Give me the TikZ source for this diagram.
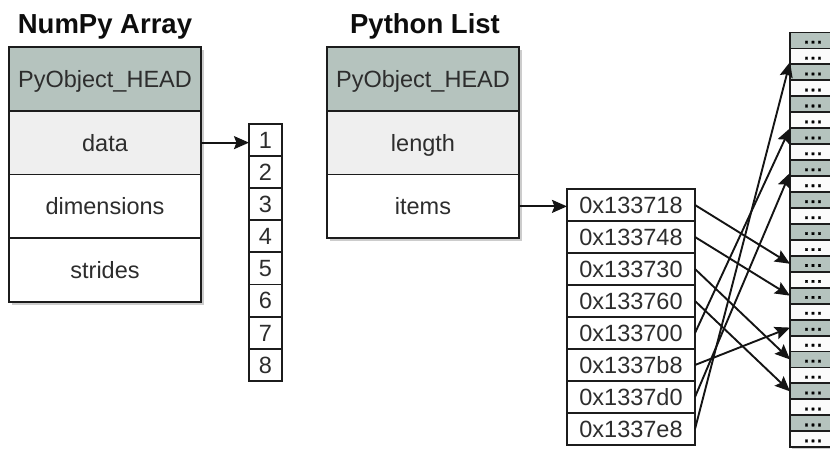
\documentclass[tikz,border=0pt]{standalone}
\usepackage{fontspec}
\setmainfont{Liberation Sans}
\newfontfamily\dotfont{DejaVu Sans}[FakeBold=1.5]
\usetikzlibrary{arrows.meta,calc,backgrounds}

\definecolor{headgray}{RGB}{181,195,190}
\definecolor{lightrow}{RGB}{239,239,239}
\definecolor{paleword}{RGB}{251,251,251}
\definecolor{inkline}{RGB}{28,28,28}
\definecolor{inktext}{RGB}{45,45,45}
\definecolor{shade}{RGB}{110,110,110}

% three square dots standing for an object's contents
\newcommand{\objdots}{\raisebox{-3pt}{.\kern1.4pt.\kern1.4pt.}}

\tikzset{
  cell/.style={rectangle, draw=inkline, line width=1.9pt, inner sep=0pt, outer sep=0pt,
    anchor=north west, text=inktext, font=\fontsize{23.5}{28}\selectfont,
    text height=16.8pt, text depth=0pt},
  field/.style={cell, minimum width=192pt, minimum height=63.75pt},
  numcell/.style={cell, fill=white, minimum width=33pt, minimum height=32.1pt},
  addrcell/.style={cell, fill=white, minimum width=128pt, minimum height=32pt},
  memcell/.style={cell, minimum width=46pt, minimum height=15.95pt,
    font=\dotfont\fontsize{13.5}{13.5}\selectfont\bfseries, text=black, text height=0pt, text depth=0pt},
  title/.style={anchor=base, font=\fontsize{27.5}{30}\selectfont\bfseries, text=black!95},
  conn/.style={draw=black!92, line width=1.9pt, -{Stealth[length=15pt,width=13pt,inset=2.5pt]}},
  boxshadow/.style={fill=shade, opacity=0.35}
}

\begin{document}
\begin{tikzpicture}[x=1pt,y=-1pt]
  \useasboundingbox (0,0) rectangle (830,450);

  % ---- NumPy array header structure ----
  \node[title] (nptitle) at (105,33) {NumPy Array};
  \node[field, fill=headgray] (nphead)    at (9,47)      {PyObject\_HEAD};
  \node[field, fill=lightrow] (npdata)    at (9,110.75)  {data};
  \node[field, fill=white]    (npdims)    at (9,174.5)   {dimensions};
  \node[field, fill=white]    (npstrides) at (9,238.25)  {strides};

  % ---- contiguous data buffer ----
  \foreach \i in {1,...,8}
    \node[numcell] (n\i) at (249,{124+(\i-1)*32.1}) {\i};

  % ---- Python list header structure ----
  \node[title] (pltitle) at (425,33) {Python List};
  \node[field, fill=headgray] (plhead)  at (327,47)     {PyObject\_HEAD};
  \node[field, fill=lightrow] (pllen)   at (327,110.75) {length};
  \node[field, fill=white]    (plitems) at (327,174.5)  {items};

  % ---- array of object pointers ----
  \foreach \a [count=\i] in {0x133718,0x133748,0x133730,0x133760,0x133700,0x1337b8,0x1337d0,0x1337e8}
    \node[addrcell] (a\i) at (567,{189+(\i-1)*32}) {\a};

  % ---- heap of Python objects ----
  \foreach \k in {0,...,25}{
    \pgfmathparse{mod(\k,2)==0 ? "headgray" : "paleword"}
    \edef\cellfill{\pgfmathresult}
    \node[memcell, fill=\cellfill] (m\k) at (790,{32.5+\k*15.95}) {\objdots};
  }

  % ---- soft drop shadows behind the stacks ----
  \begin{scope}[on background layer]
    \fill[boxshadow] ($(nphead.north west)+(2.5,2.5)$) rectangle ($(npstrides.south east)+(2.5,2.5)$);
    \fill[boxshadow] ($(plhead.north west)+(2.5,2.5)$) rectangle ($(plitems.south east)+(2.5,2.5)$);
    \fill[boxshadow] ($(m0.north west)+(2,2)$) rectangle ($(m25.south east)+(2,2)$);
  \end{scope}

  % ---- pointers ----
  \draw[conn] (npdata.east) -- (npdata.east -| n1.west);
  \draw[conn] (plitems.east) -- (plitems.east -| a1.west);

  \draw[conn] (a1.east) -- (m14.west);
  \draw[conn] (a2.east) -- (m16.west);
  \draw[conn] (a3.east) -- (m20.west);
  \draw[conn] (a4.east) -- (m22.west);
  \draw[conn] (a5.east) -- (m5.south west);
  \draw[conn] (a6.east) -- (m18.west);
  \draw[conn] (a7.east) -- ($(m8.west)!0.6!(m8.south west)$);
  \draw[conn] (a8.east) -- ($(m1.west)!0.7!(m1.south west)$);
\end{tikzpicture}
\end{document}
